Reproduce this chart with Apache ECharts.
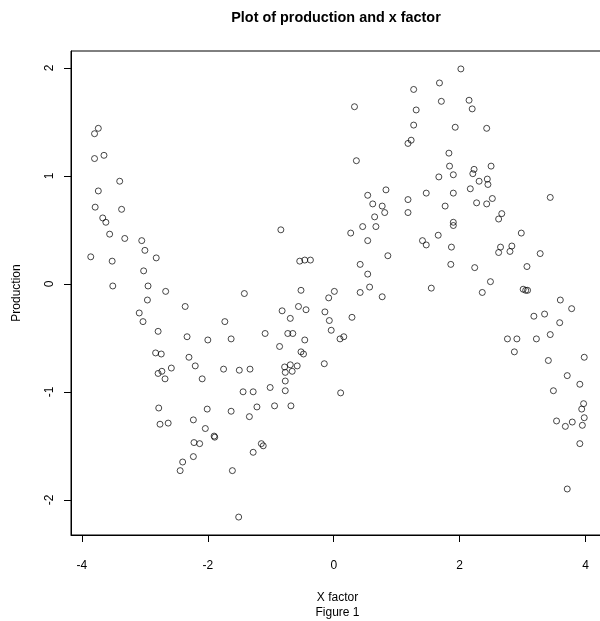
<!DOCTYPE html>
<html>
<head>
<meta charset="utf-8">
<title>Plot of production and x factor</title>
<script src="https://cdn.jsdelivr.net/npm/echarts@6/dist/echarts.min.js"></script>
<style>
  html, body { margin: 0; padding: 0; background: #fff; }
  #chart { width: 600px; height: 621px; }
</style>
</head>
<body>
<div id="chart"></div>
<script>
// Observations: x factor and production
const xFactor = [
  -3.74, -3.80, -3.80, -3.65, -3.40, -3.74, -3.79, -3.37, -3.67, -3.62,
  1.27, 0.33, 1.31, 1.27, 1.23, 1.18, 0.36, 0.83, 0.54, 1.47,
  0.62, 1.18, 0.77, 0.81, 1.18, 0.65, 0.46, 0.67, -0.84,
  2.02, 1.68, 1.71, 2.15, 2.20, 1.93, 2.43, 1.83, 1.84, 2.50,
  2.23, 2.21, 1.67, 1.90, 2.44, 2.31, 2.45, 1.90, 2.17, 3.44,
  1.77, 2.27, 2.43, 2.52, 2.67, 2.62, 1.90, 1.90,
  -3.56, -3.32, -3.05, -3.86, -3.52, -3.00, -2.82, -3.02, -3.51, -2.95,
  -2.67, -1.42, -2.96, -2.36, -3.09, -3.03, -1.73, -2.79, -2.33, -2.00,
  -1.63, -2.83, -2.74, -2.30, -2.20, -2.58, -2.73, -2.79, -2.68, -1.75,
  -1.50, -1.33, -2.09, -1.44, -2.78, -2.01, -1.63,
  -2.76, -2.63, -2.23, -1.34, -2.04, -1.90, -1.89, -2.22, -2.13, -2.23,
  -2.40, -2.44, -1.61, -1.51,
  -1.28, -1.15, -1.12,
  0.27, 0.54, 1.41, 1.47, 0.86, -0.54, -0.46, -0.37, 0.42, 0.54,
  0.57, 0.42, 0.77, -0.52, 0.01, -0.08, -0.82, -0.56, -0.44, -0.14,
  0.29, -0.69, -0.07, -1.09, -0.73, -0.65, -0.04, 0.10, 0.16, -0.46,
  -0.86, -0.52, -0.48, -0.15, -0.78, -0.69, -0.58, -0.77, -0.66, -0.77,
  -1.01, -1.28, -0.77, 0.11, -1.22, -0.94, -0.68,
  1.66, 2.98, 1.87, 2.65, 2.83, 2.62, 2.80, 3.28, 1.86, 2.24,
  3.07, 1.55, 2.49, 2.36, 3.01, 3.05, 3.08, 3.60, 3.78, 3.18,
  3.35, 3.59, 2.76, 2.91, 3.22, 3.44, 2.87, 3.41, 3.98, 3.71,
  3.91, 3.49, 3.97, 3.94,
  3.54, 3.68, 3.79, 3.98, 3.95, 3.91, 3.71
];

const production = [
  1.44, 1.39, 1.16, 1.19, 0.95, 0.86, 0.71, 0.69, 0.61, 0.57,
  1.80, 1.64, 1.61, 1.47, 1.33, 1.30, 1.14, 0.87, 0.82, 0.84,
  0.74, 0.78, 0.72, 0.66, 0.66, 0.62, 0.53, 0.53, 0.50,
  1.99, 1.86, 1.69, 1.70, 1.62, 1.45, 1.44, 1.21, 1.09, 1.09,
  1.06, 1.02, 0.99, 1.01, 0.97, 0.95, 0.92, 0.84, 0.88, 0.80,
  0.72, 0.75, 0.74, 0.79, 0.65, 0.60, 0.57, 0.54,
  0.46, 0.42, 0.40, 0.25, 0.21, 0.31, 0.24, 0.12, -0.02, -0.02,
  -0.07, -0.09, -0.15, -0.21, -0.27, -0.35, -0.35, -0.44, -0.49, -0.52,
  -0.51, -0.64, -0.65, -0.68, -0.76, -0.78, -0.81, -0.83, -0.88, -0.79,
  -0.80, -0.79, -0.88, -1.00, -1.15, -1.16, -1.18,
  -1.30, -1.29, -1.26, -1.23, -1.34, -1.41, -1.42, -1.47, -1.48, -1.60,
  -1.65, -1.73, -1.73, -2.16,
  -1.56, -1.48, -1.50,
  0.47, 0.40, 0.40, 0.36, 0.26, 0.21, 0.22, 0.22, 0.18, 0.09,
  -0.03, -0.08, -0.12, -0.06, -0.07, -0.13, -0.25, -0.21, -0.24, -0.26,
  -0.31, -0.32, -0.34, -0.46, -0.46, -0.46, -0.43, -0.51, -0.49, -0.52,
  -0.58, -0.63, -0.65, -0.74, -0.77, -0.75, -0.76, -0.82, -0.81, -0.90,
  -0.96, -1.00, -0.99, -1.01, -1.14, -1.13, -1.13,
  0.45, 0.47, 0.34, 0.34, 0.35, 0.29, 0.30, 0.28, 0.18, 0.15,
  0.16, -0.04, 0.02, -0.08, -0.05, -0.06, -0.06, -0.15, -0.23, -0.30,
  -0.28, -0.36, -0.51, -0.51, -0.51, -0.47, -0.63, -0.71, -0.68, -0.85,
  -0.93, -0.99, -1.11, -1.16,
  -1.27, -1.32, -1.28, -1.24, -1.31, -1.48, -1.90
];

const xTicks = [-4, -2, 0, 2, 4];
const yTicks = [-2, -1, 0, 1, 2];

const points = xFactor.map((x, i) => [x, production[i]]);

const FONT = 'Liberation Sans, Arial, Helvetica, sans-serif';

const chart = echarts.init(document.getElementById('chart'), null, { renderer: 'canvas' });

chart.setOption({
  animation: false,
  backgroundColor: '#ffffff',
  title: {
    text: 'Plot of production and x factor',
    left: 336,
    top: 11,
    padding: 0,
    textAlign: 'center',
    textStyle: { fontFamily: FONT, fontSize: 14.4, fontWeight: 'bold', color: '#000' }
  },
  grid: {
    left: 71,
    top: 51,
    width: 533,
    height: 484,
    show: true,
    borderColor: '#000',
    borderWidth: 1,
    containLabel: false,
    outerBoundsMode: 'none'
  },
  xAxis: {
    type: 'value',
    min: -4.174,
    max: 4.294,
    name: 'X factor\nFigure 1',
    nameLocation: 'middle',
    nameGap: 55,
    nameTextStyle: { fontFamily: FONT, fontSize: 12, color: '#000', lineHeight: 15 },
    splitLine: { show: false },
    axisLine: { show: true, onZero: false, lineStyle: { color: '#000', width: 1 } },
    axisTick: { show: true, length: 7, lineStyle: { color: '#000' }, customValues: xTicks },
    axisLabel: { fontFamily: FONT, fontSize: 12, color: '#000', margin: 25, customValues: xTicks }
  },
  yAxis: {
    type: 'value',
    min: -2.326,
    max: 2.156,
    name: 'Production',
    nameLocation: 'middle',
    nameGap: 48,
    nameTextStyle: { fontFamily: FONT, fontSize: 12, color: '#000' },
    splitLine: { show: false },
    axisLine: { show: true, onZero: false, lineStyle: { color: '#000', width: 1 } },
    axisTick: { show: true, length: 7, lineStyle: { color: '#000' }, customValues: yTicks },
    axisLabel: { fontFamily: FONT, fontSize: 12, color: '#000', margin: 15, rotate: 90, customValues: yTicks }
  },
  series: [{
    type: 'scatter',
    data: points,
    symbol: 'circle',
    symbolSize: 6,
    itemStyle: { color: 'rgba(255,255,255,0)', borderColor: '#000', borderWidth: 0.9 },
    emphasis: { disabled: true }
  }]
});
</script>
</body>
</html>
